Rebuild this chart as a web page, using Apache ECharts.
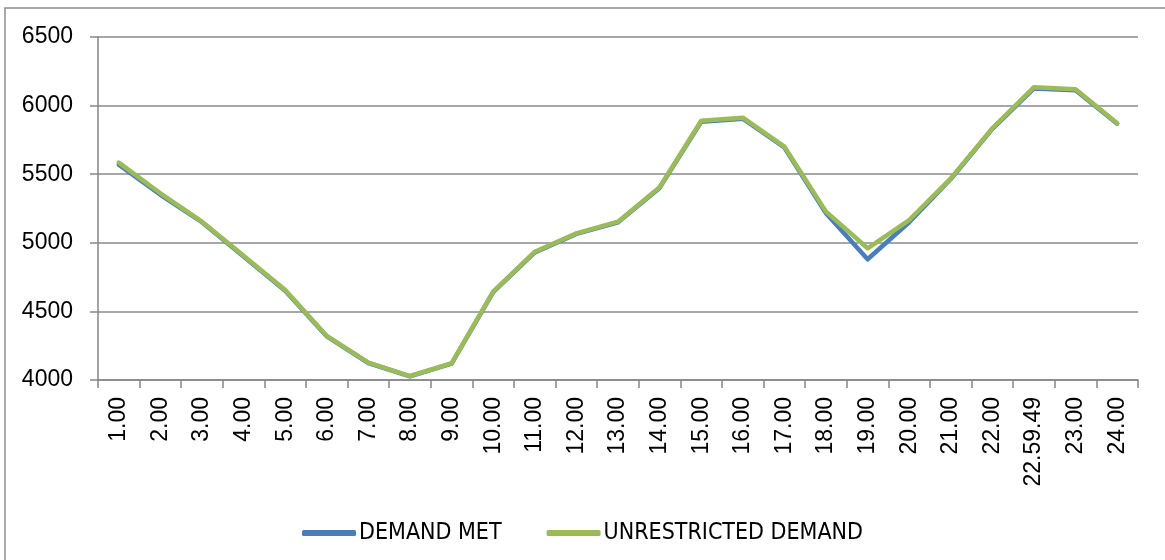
<!DOCTYPE html>
<html>
<head>
<meta charset="utf-8">
<script src="https://cdn.jsdelivr.net/npm/echarts@6/dist/echarts.min.js"></script>
<style>
html,body{margin:0;padding:0;background:#fff;}
#main{width:1165px;height:560px;}
</style>
</head>
<body>
<div id="main"></div>
<script>
const categories = ['1.00','2.00','3.00','4.00','5.00','6.00','7.00','8.00','9.00','10.00','11.00','12.00','13.00','14.00','15.00','16.00','17.00','18.00','19.00','20.00','21.00','22.00','22.59.49','23.00','24.00'];
const demandMet = [5570,5350,5150,4900,4650,4318,4124,4027,4120,4640,4930,5065,5150,5400,5882,5905,5695,5215,4880,5150,5465,5830,6125,6112,5868];
const unrestrictedDemand = [5584,5361,5154,4905,4656,4321,4126,4029,4122,4644,4935,5069,5154,5405,5890,5912,5701,5227,4960,5166,5470,5835,6134,6119,5871];
const yTicks = {min:4000, max:6500, interval:500};

const chart = echarts.init(document.getElementById('main'));
const axisGray = '#868686';
chart.setOption({
  animation: false,
  backgroundColor: '#fff',
  graphic: [{
    type: 'rect',
    shape: {x: 5, y: 8, width: 1200, height: 600},
    style: {fill: 'none', stroke: '#8f8f8f', lineWidth: 1.5},
    silent: true, z: -1
  }],
  grid: {left: 98, right: 27, top: 37, bottom: 180, containLabel: false},
  legend: {
    left: 'center',
    top: 514,
    icon: 'roundRect',
    itemWidth: 54,
    itemHeight: 6,
    itemGap: 45,
    textStyle: {fontFamily: '"DejaVu Sans Condensed","Liberation Sans Narrow",sans-serif', fontSize: 23, color: '#000', lineHeight: 28, padding: [0,0,0,-2]},
    data: ['DEMAND MET','UNRESTRICTED DEMAND']
  },
  xAxis: {
    type: 'category',
    data: categories,
    boundaryGap: true,
    axisLine: {show: true, lineStyle: {color: axisGray, width: 1.5}},
    axisTick: {show: true, length: 8, lineStyle: {color: axisGray, width: 1.5}},
    axisLabel: {rotate: 90, margin: 17, fontSize: 23, color: '#000', fontFamily: '"Liberation Sans",Arial,sans-serif', interval: 0},
    splitLine: {show: false}
  },
  yAxis: {
    type: 'value',
    min: yTicks.min, max: yTicks.max, interval: yTicks.interval,
    axisLine: {show: true, lineStyle: {color: axisGray, width: 1.5}},
    axisTick: {show: true, length: 8, lineStyle: {color: axisGray, width: 1.5}},
    axisLabel: {margin: 25, fontSize: 23, color: '#000', fontFamily: '"Liberation Sans",Arial,sans-serif', formatter: function (v) { return String(v); }},
    splitLine: {show: true, lineStyle: {color: '#8a8a8a', width: 1.5}}
  },
  series: [
    {
      name: 'DEMAND MET', type: 'line', data: demandMet,
      symbol: 'none', showSymbol: false,
      itemStyle: {color: '#4a7ebb'},
      lineStyle: {color: '#4a7ebb', width: 4.5, cap: 'round', join: 'round'},
      z: 2
    },
    {
      name: 'UNRESTRICTED DEMAND', type: 'line', data: unrestrictedDemand,
      symbol: 'none', showSymbol: false,
      itemStyle: {color: '#9bbb59'},
      lineStyle: {color: '#9bbb59', width: 4.5, cap: 'round', join: 'round'},
      z: 3
    }
  ]
});
</script>
</body>
</html>
